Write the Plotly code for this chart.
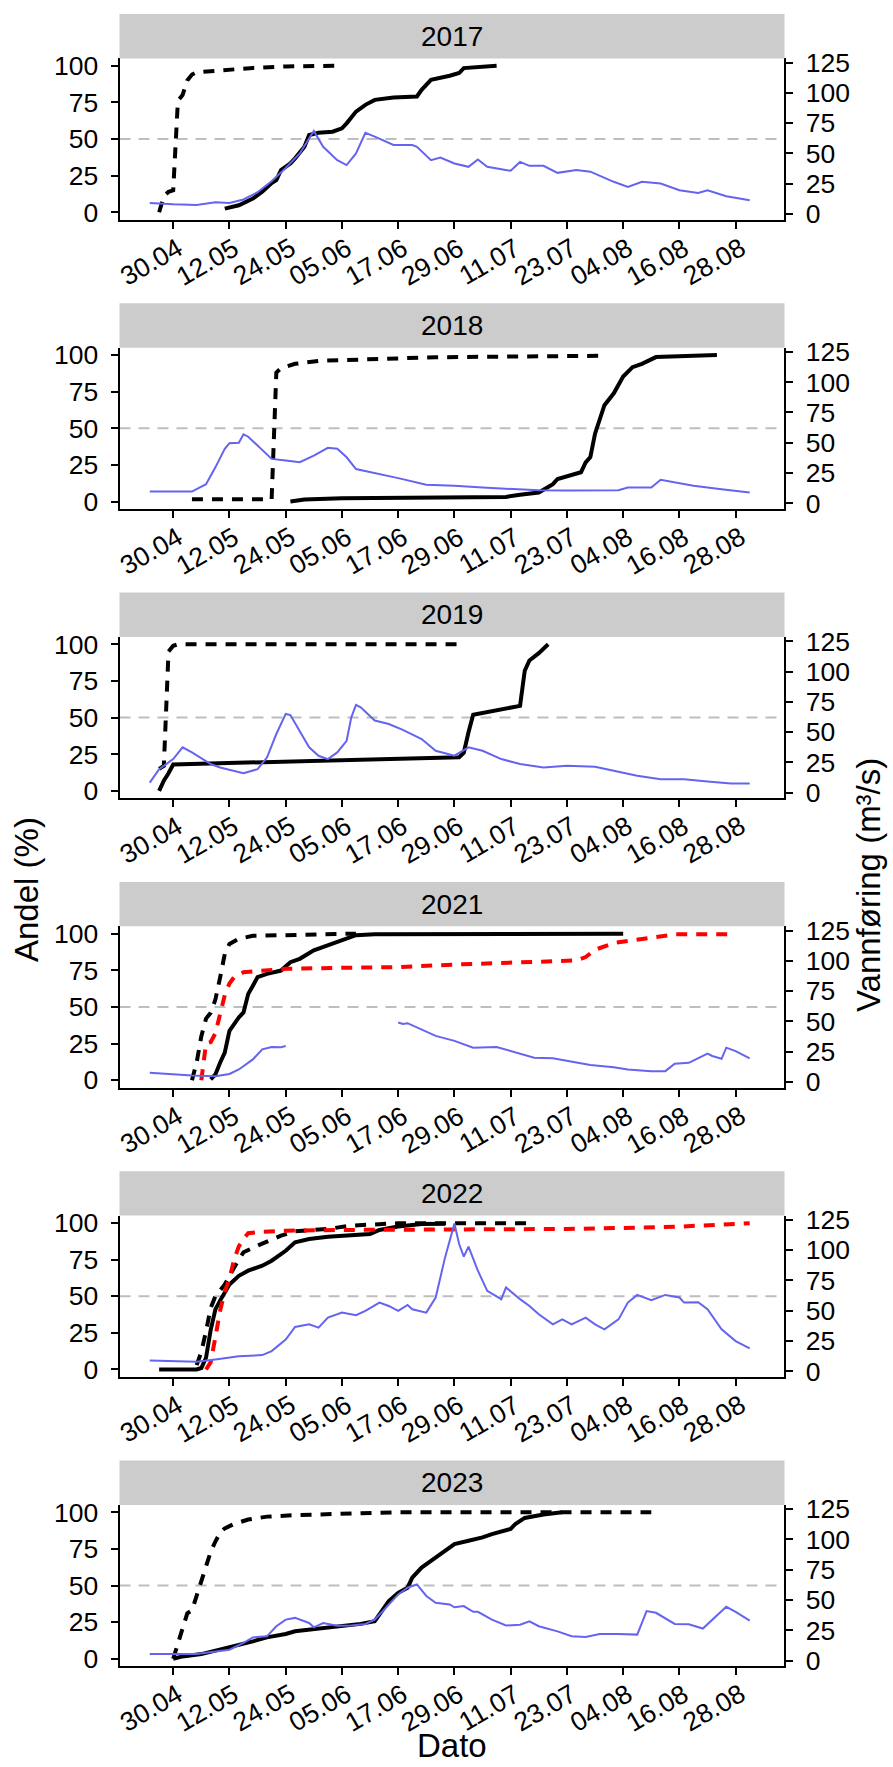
import pandas as pd
import plotly.graph_objects as go

# ---------------------------------------------------------------------------
# Data: every season is drawn on one common calendar (day.month)
# ---------------------------------------------------------------------------
YEARS = ["2017", "2018", "2019", "2021", "2022", "2023"]
X_TICKS = ["30.04", "12.05", "24.05", "05.06", "17.06", "29.06",
           "11.07", "23.07", "04.08", "16.08", "28.08"]
ANDEL_TICKS = [0, 25, 50, 75, 100]
FLOW_TICKS = [0, 25, 50, 75, 100, 125]
REFERENCE_LEVEL = 50

# Vannføring (m3/s)
flow_2017 = [("25.04", 9.2), ("30.04", 8.0), ("05.05", 7.5), ("09.05", 9.7), ("12.05", 9.2),
             ("15.05", 12), ("18.05", 18), ("21.05", 27), ("24.05", 38), ("27.05", 50),
             ("30.05", 68.6), ("01.06", 55.5), ("04.06", 44.5), ("06.06", 40.4), ("08.06", 50),
             ("10.06", 67), ("12.06", 63.9), ("16.06", 57), ("20.06", 57), ("21.06", 55.5),
             ("24.06", 44.5), ("26.06", 46.7), ("29.06", 41.7), ("02.07", 39), ("04.07", 45),
             ("06.07", 39), ("11.07", 35.7), ("13.07", 43), ("15.07", 39.8), ("18.07", 39.8),
             ("21.07", 34), ("25.07", 36.3), ("28.07", 35), ("02.08", 26.6), ("05.08", 22.4),
             ("08.08", 26.6), ("12.08", 25.2), ("16.08", 19.6), ("20.08", 17.4), ("22.08", 19.6),
             ("26.08", 14.7), ("31.08", 11.3)]
flow_2018 = [("25.04", 9.8), ("04.05", 9.7), ("07.05", 15.8), ("09.05", 29.7), ("11.05", 45),
             ("12.05", 49.7), ("14.05", 50), ("15.05", 57), ("16.05", 55), ("19.05", 43.7),
             ("21.05", 36.7), ("24.05", 35.3), ("27.05", 33.9), ("30.05", 39.4), ("02.06", 45.8),
             ("04.06", 45), ("06.06", 38), ("08.06", 28.3), ("13.06", 24.2), ("17.06", 20.8),
             ("23.06", 15.3), ("29.06", 14.5), ("05.07", 13), ("11.07", 11.7), ("17.07", 10.8),
             ("23.07", 10.5), ("29.07", 10.8), ("03.08", 10.8), ("05.08", 13), ("10.08", 13),
             ("12.08", 19.5), ("14.08", 18.1), ("19.08", 14.5), ("25.08", 11.7), ("31.08", 8.9)]
flow_2019 = [("25.04", 8.3), ("27.04", 19.4), ("30.04", 27.7), ("02.05", 37.4), ("04.05", 33.2),
             ("08.05", 23.6), ("10.05", 20.8), ("13.05", 18), ("15.05", 16), ("18.05", 19.4),
             ("20.05", 29), ("22.05", 48.4), ("24.05", 65), ("25.05", 64), ("27.05", 51),
             ("29.05", 37.4), ("31.05", 30.4), ("02.06", 27.7), ("04.06", 33.2), ("06.06", 42.8),
             ("07.06", 62.2), ("08.06", 72.5), ("09.06", 70.5), ("12.06", 59.5), ("15.06", 56.7),
             ("18.06", 51.8), ("22.06", 44.3), ("25.06", 34.6), ("29.06", 30.5), ("02.07", 37.4),
             ("05.07", 34.6), ("09.07", 27.7), ("13.07", 23.6), ("18.07", 20.8), ("23.07", 22.1),
             ("29.07", 21.3), ("02.08", 18), ("07.08", 13.9), ("12.08", 11.1), ("17.08", 11.1),
             ("22.08", 9.2), ("27.08", 7.5), ("31.08", 7.5)]
flow_2021 = [("25.04", 7.5), ("30.04", 6.1), ("04.05", 5.3), ("09.05", 4.7), ("12.05", 6.6),
             ("14.05", 10.3), ("17.05", 18.6), ("19.05", 26.9), ("21.05", 28.9), ("23.05", 28.7),
             ("24.05", 29.6), ("05.06", None), ("17.06", 49.1), ("18.06", 47.8), ("19.06", 48.5),
             ("22.06", 43.5), ("25.06", 38), ("29.06", 33.9), ("03.07", 28.3), ("08.07", 28.9),
             ("11.07", 25.5), ("16.07", 20), ("20.07", 19.5), ("23.07", 17.2), ("28.07", 13.9),
             ("02.08", 12.2), ("05.08", 10.3), ("10.08", 8.9), ("13.08", 8.9), ("15.08", 15),
             ("17.08", 15.8), ("18.08", 15.8), ("22.08", 23.3), ("23.08", 21.4), ("25.08", 19.1),
             ("26.08", 28.3), ("28.08", 25.5), ("31.08", 19.5)]
flow_2022 = [("25.04", 8.9), ("30.04", 8.3), ("05.05", 7.8), ("09.05", 9.7), ("14.05", 12.4),
             ("19.05", 13.3), ("21.05", 16.6), ("24.05", 26.2), ("26.05", 36.5), ("29.05", 38.7),
             ("31.05", 36), ("02.06", 44.3), ("05.06", 48.4), ("08.06", 46.2), ("10.06", 49.8),
             ("13.06", 56.7), ("15.06", 53.9), ("17.06", 49.8), ("19.06", 54.7), ("20.06", 51.2),
             ("23.06", 48.4), ("25.06", 60.8), ("27.06", 94), ("29.06", 122), ("30.06", 105),
             ("01.07", 94.6), ("02.07", 102.9), ("04.07", 83), ("06.07", 66.4), ("09.07", 59.5),
             ("10.07", 69.2), ("13.07", 59.5), ("15.07", 53.9), ("17.07", 47), ("20.07", 38.7),
             ("22.07", 42.8), ("24.07", 38.7), ("27.07", 44.3), ("29.07", 38.7), ("31.07", 34.6),
             ("03.08", 42.8), ("05.08", 56.7), ("07.08", 63), ("10.08", 58.7), ("13.08", 63),
             ("16.08", 60.9), ("17.08", 56.7), ("20.08", 57), ("22.08", 51.2), ("25.08", 34.6),
             ("28.08", 24.9), ("31.08", 18.8)]
flow_2023 = [("25.04", 5.3), ("30.04", 5.3), ("05.05", 5.3), ("12.05", 8.9), ("15.05", 14.5),
             ("17.05", 19.1), ("20.05", 20), ("22.05", 28.3), ("24.05", 33.8), ("26.05", 35.2),
             ("29.05", 31), ("30.05", 27.4), ("01.06", 31), ("04.06", 28.8), ("07.06", 29),
             ("10.06", 30.2), ("12.06", 33.8), ("15.06", 46.3), ("17.06", 54.6), ("19.06", 60.1),
             ("21.06", 62.9), ("23.06", 53.3), ("25.06", 47.7), ("28.06", 46.3), ("29.06", 44),
             ("01.07", 45), ("03.07", 40.2), ("04.07", 40.2), ("07.07", 33.8), ("10.07", 28.9),
             ("13.07", 29.6), ("15.07", 32.4), ("17.07", 28.3), ("21.07", 24.1), ("24.07", 20),
             ("27.07", 19.4), ("30.07", 21.9), ("03.08", 22), ("07.08", 21.4), ("09.08", 40.8),
             ("11.08", 39.4), ("15.08", 30.2), ("18.08", 29.9), ("21.08", 26.4), ("23.08", 33.8),
             ("26.08", 44.4), ("28.08", 40.2), ("31.08", 33)]

# Andel (%) - cumulative, dashed black series
dashed_2017 = [("27.04", 0), ("28.04", 11), ("29.04", 14), ("30.04", 15), ("01.05", 76),
               ("02.05", 80), ("03.05", 90), ("04.05", 94), ("05.05", 95.5), ("10.05", 97),
               ("17.05", 98.5), ("24.05", 99.5), ("05.06", 100)]
dashed_2018 = [("04.05", 1.5), ("21.05", 1.5), ("22.05", 88), ("23.05", 91), ("26.05", 94),
               ("31.05", 96), ("10.06", 97), ("25.06", 98.5), ("31.07", 99.5)]
dashed_2019 = [("27.04", 15), ("28.04", 17), ("29.04", 95), ("30.04", 99), ("01.05", 100),
               ("01.07", 100)]
dashed_2021 = [("04.05", 0), ("05.05", 12), ("06.05", 30), ("07.05", 42), ("08.05", 46),
               ("09.05", 55), ("10.05", 70), ("11.05", 86), ("12.05", 93), ("14.05", 96.5),
               ("17.05", 98.5), ("24.05", 99), ("08.06", 100)]
dashed_2022 = [("05.05", 3), ("06.05", 12), ("07.05", 26), ("08.05", 42), ("09.05", 50),
               ("11.05", 58), ("13.05", 69.6), ("15.05", 80), ("18.05", 84.5), ("23.05", 91.3),
               ("26.05", 94.3), ("02.06", 95.9), ("07.06", 98.2), ("17.06", 99.8), ("15.07", 99.8)]
dashed_2023 = [("30.04", 0), ("01.05", 10), ("02.05", 22), ("03.05", 31), ("04.05", 33),
               ("05.05", 42), ("06.05", 53), ("07.05", 63), ("08.05", 73), ("09.05", 80),
               ("10.05", 86), ("11.05", 89), ("13.05", 92), ("16.05", 95), ("20.05", 97),
               ("26.05", 98), ("08.06", 99), ("17.06", 100), ("10.08", 100)]

# Andel (%) - cumulative, solid black series
solid_2017 = [("11.05", 2.5), ("14.05", 4.8), ("17.05", 9.4), ("19.05", 14), ("21.05", 20),
              ("22.05", 22), ("23.05", 28.8), ("25.05", 33.3), ("26.05", 36.8), ("28.05", 44.7),
              ("29.05", 52.7), ("31.05", 54.3), ("03.06", 55), ("05.06", 57.3), ("06.06", 60.7),
              ("08.06", 68.7), ("10.06", 73.3), ("12.06", 76.7), ("16.06", 78.3), ("21.06", 79),
              ("22.06", 83.6), ("24.06", 90.4), ("28.06", 93.2), ("30.06", 95), ("01.07", 98.4),
              ("05.07", 99.5), ("08.07", 100)]
solid_2018 = [("25.05", 0), ("28.05", 1.4), ("05.06", 2.3), ("17.06", 2.8), ("10.07", 3.2),
              ("13.07", 4.6), ("17.07", 6.2), ("19.07", 10), ("20.07", 11.9), ("21.07", 15.4),
              ("26.07", 20), ("27.07", 26.8), ("28.07", 30.3), ("29.07", 46.3), ("30.07", 55.5),
              ("31.07", 65.8), ("02.08", 73.9), ("03.08", 79.6), ("04.08", 85.3), ("06.08", 91.7),
              ("08.08", 94), ("11.08", 98.6), ("16.08", 99), ("24.08", 100)]
solid_2019 = [("27.04", 0), ("28.04", 7), ("29.04", 12), ("30.04", 18), ("30.06", 23),
              ("01.07", 26), ("02.07", 40), ("03.07", 52), ("13.07", 58), ("14.07", 82),
              ("15.07", 89), ("17.07", 94), ("19.07", 100)]
solid_2021 = [("08.05", 0.5), ("09.05", 3.9), ("10.05", 11.9), ("11.05", 18.8), ("12.05", 33.6),
              ("13.05", 38.2), ("14.05", 42.8), ("15.05", 46.2), ("16.05", 58.8), ("17.05", 64.5),
              ("18.05", 70.3), ("20.05", 72.5), ("23.05", 74.8), ("25.05", 80.5), ("27.05", 82.8),
              ("30.05", 88.6), ("02.06", 92), ("05.06", 95.4), ("08.06", 98.9), ("12.06", 99.5),
              ("04.08", 100)]
solid_2022 = [("27.04", 0), ("05.05", 0), ("06.05", 1), ("07.05", 8), ("08.05", 27),
              ("09.05", 41), ("10.05", 47), ("11.05", 52), ("12.05", 58), ("14.05", 63.9),
              ("16.05", 67.4), ("19.05", 70.8), ("21.05", 74.2), ("24.05", 81), ("26.05", 86.8),
              ("29.05", 89), ("02.06", 90.6), ("11.06", 92.5), ("13.06", 95.2), ("17.06", 97.5),
              ("22.06", 99.3), ("27.06", 99.5)]
solid_2023 = [("30.04", 0), ("02.05", 1.6), ("06.05", 3.2), ("09.05", 5.5), ("13.05", 8.5),
              ("17.05", 11.9), ("20.05", 14.6), ("24.05", 16.9), ("26.05", 18.8), ("29.05", 19.9),
              ("01.06", 21), ("05.06", 22.2), ("09.06", 23.8), ("12.06", 25.6), ("13.06", 30.2),
              ("15.06", 39.4), ("17.06", 45), ("19.06", 48.5), ("20.06", 55.4), ("22.06", 62.2),
              ("24.06", 66.8), ("26.06", 71.4), ("29.06", 78.3), ("02.07", 80.5), ("05.07", 82.8),
              ("07.07", 85.1), ("11.07", 88.6), ("12.07", 92), ("14.07", 96.1), ("18.07", 98.4),
              ("22.07", 100)]

# Andel (%) - cumulative, red dashed series
red_2021 = [("06.05", 0), ("07.05", 25), ("08.05", 26), ("09.05", 32), ("10.05", 45),
            ("11.05", 58), ("12.05", 66), ("13.05", 70.3), ("15.05", 73.7), ("19.05", 74.8),
            ("24.05", 76), ("05.06", 76.7), ("17.06", 77.1), ("29.06", 78.9), ("11.07", 80.5),
            ("25.07", 81.7), ("27.07", 84), ("29.07", 89), ("02.08", 93.6), ("06.08", 95.4),
            ("11.08", 98.2), ("15.08", 99.5), ("28.08", 99.5)]
red_2022 = [("07.05", 0), ("08.05", 5), ("09.05", 22), ("10.05", 40), ("11.05", 53),
            ("12.05", 62), ("13.05", 75), ("14.05", 84), ("15.05", 89), ("16.05", 93),
            ("19.05", 94), ("24.05", 94.7), ("05.06", 95.2), ("17.06", 95.4), ("11.07", 95.4),
            ("23.07", 95.9), ("04.08", 96.6), ("16.08", 97.5), ("31.08", 99.8)]

PANELS = [
    ("2017", flow_2017, dashed_2017, solid_2017, None),
    ("2018", flow_2018, dashed_2018, solid_2018, None),
    ("2019", flow_2019, dashed_2019, solid_2019, None),
    ("2021", flow_2021, dashed_2021, solid_2021, red_2021),
    ("2022", flow_2022, dashed_2022, solid_2022, red_2022),
    ("2023", flow_2023, dashed_2023, solid_2023, None),
]

# ---------------------------------------------------------------------------
# Helpers
# ---------------------------------------------------------------------------
BASE_YEAR = 2021


def to_date(label):
    day, month = label.split(".")
    return pd.Timestamp(year=BASE_YEAR, month=int(month), day=int(day))


def split(series):
    return [to_date(d) for d, _ in series], [v for _, v in series]


W, H = 893, 1767
FONT = "Liberation Sans, Arial, Helvetica, sans-serif"
TICK_SIZE = 26.5
STRIP_SIZE = 28
TITLE_SIZE = 33

PLOT_LEFT, PLOT_RIGHT = 119.5, 783.5
PANEL_STEP = 289.3
STRIP_TOP0, PANEL_TOP0, PANEL_BOTTOM0 = 14.0, 58.4, 219.6

X_RANGE = [pd.Timestamp("2021-04-18 13:00"), pd.Timestamp("2021-09-07 05:00")]
LEFT_RANGE = [-5, 105]
RIGHT_RANGE = [-4.6, 128.5]

FLOW_COLOR = "#6464F0"
CUM_COLOR = "black"
RED_COLOR = "#FF0000"
CUM_WIDTH = 4
DASH = "11px,9px"

# rotated date labels: centre offset from the tick (pixels)
DATE_LABEL_DX, DATE_LABEL_DY = -22, 42


def py(y):
    return 1 - y / H


fig = go.Figure()
shapes, annotations = [], []
layout = {}
tick_font = dict(family=FONT, size=TICK_SIZE, color="black")

for k, (year, flow, dashed, solid, red) in enumerate(PANELS):
    n = k + 1
    xa = "x" if n == 1 else f"x{n}"
    ya = "y" if n == 1 else f"y{n}"
    ya2 = f"y{n + 6}"

    top = PANEL_TOP0 + PANEL_STEP * k
    bottom = PANEL_BOTTOM0 + PANEL_STEP * k
    strip_top = STRIP_TOP0 + PANEL_STEP * k

    fx, fy = split(flow)
    fig.add_trace(go.Scatter(x=fx, y=fy, mode="lines", xaxis=xa, yaxis=ya2,
                             line=dict(color=FLOW_COLOR, width=2),
                             connectgaps=False, showlegend=False))
    dx, dy = split(dashed)
    fig.add_trace(go.Scatter(x=dx, y=dy, mode="lines", xaxis=xa, yaxis=ya,
                             line=dict(color=CUM_COLOR, width=CUM_WIDTH, dash=DASH),
                             showlegend=False))
    sx, sy = split(solid)
    fig.add_trace(go.Scatter(x=sx, y=sy, mode="lines", xaxis=xa, yaxis=ya,
                             line=dict(color=CUM_COLOR, width=CUM_WIDTH),
                             showlegend=False))
    if red is not None:
        rx, ry = split(red)
        fig.add_trace(go.Scatter(x=rx, y=ry, mode="lines", xaxis=xa, yaxis=ya,
                                 line=dict(color=RED_COLOR, width=CUM_WIDTH, dash=DASH),
                                 showlegend=False))

    common = dict(showline=True, linecolor="black", linewidth=2, ticks="outside",
                  ticklen=7, tickwidth=2, tickcolor="black", showgrid=False,
                  zeroline=False, tickfont=tick_font, automargin=False)

    layout[f"xaxis{n}"] = dict(
        domain=[PLOT_LEFT / W, PLOT_RIGHT / W], anchor=ya, range=X_RANGE,
        tickvals=[to_date(t) for t in X_TICKS], showticklabels=False, **common)
    layout[f"yaxis{n}"] = dict(
        domain=[py(bottom), py(top)], anchor=xa, range=LEFT_RANGE,
        tickvals=ANDEL_TICKS, ticktext=[str(v) for v in ANDEL_TICKS],
        ticklabelstandoff=7, **common)
    layout[f"yaxis{n + 6}"] = dict(
        overlaying=ya, anchor=xa, side="right", range=RIGHT_RANGE,
        tickvals=FLOW_TICKS, ticktext=[str(v) for v in FLOW_TICKS],
        ticklabelstandoff=8, **common)

    # rotated date labels under each tick
    for t in X_TICKS:
        annotations.append(dict(text=t, xref=xa, yref="paper", x=to_date(t),
                                y=py(bottom + DATE_LABEL_DY), xshift=DATE_LABEL_DX,
                                textangle=-30, showarrow=False,
                                xanchor="center", yanchor="middle", font=tick_font))

    # facet strip
    shapes.append(dict(type="rect", xref="paper", yref="paper",
                       x0=PLOT_LEFT / W, x1=(PLOT_RIGHT + 1) / W,
                       y0=py(top), y1=py(strip_top),
                       fillcolor="#CCCCCC", line=dict(width=0), layer="above"))
    annotations.append(dict(text=year, xref="paper", yref="paper",
                            x=(PLOT_LEFT + PLOT_RIGHT) / 2 / W,
                            y=py((strip_top + top) / 2),
                            showarrow=False, xanchor="center", yanchor="middle",
                            font=dict(family=FONT, size=STRIP_SIZE, color="black")))
    # reference level
    shapes.append(dict(type="line", xref=f"{xa} domain", yref=ya,
                       x0=0, x1=1, y0=REFERENCE_LEVEL, y1=REFERENCE_LEVEL,
                       line=dict(color="#BEBEBE", width=2, dash="11px,8px"),
                       layer="below"))

annotations += [
    dict(text="Dato", xref="paper", yref="paper",
         x=(PLOT_LEFT + PLOT_RIGHT) / 2 / W, y=py(1766), showarrow=False,
         xanchor="center", yanchor="bottom",
         font=dict(family=FONT, size=TITLE_SIZE, color="black")),
    dict(text="Andel (%)", xref="paper", yref="paper",
         x=26 / W, y=py(890), showarrow=False, textangle=-90,
         xanchor="center", yanchor="middle",
         font=dict(family=FONT, size=TITLE_SIZE, color="black")),
    dict(text="Vannføring (m³/s)", xref="paper", yref="paper",
         x=869 / W, y=py(885), showarrow=False, textangle=-90,
         xanchor="center", yanchor="middle",
         font=dict(family=FONT, size=TITLE_SIZE, color="black")),
]

fig.update_layout(
    width=W, height=H, margin=dict(l=0, r=0, t=0, b=0),
    paper_bgcolor="white", plot_bgcolor="white",
    showlegend=False, shapes=shapes, annotations=annotations, **layout)

fig.write_html("out.html")
